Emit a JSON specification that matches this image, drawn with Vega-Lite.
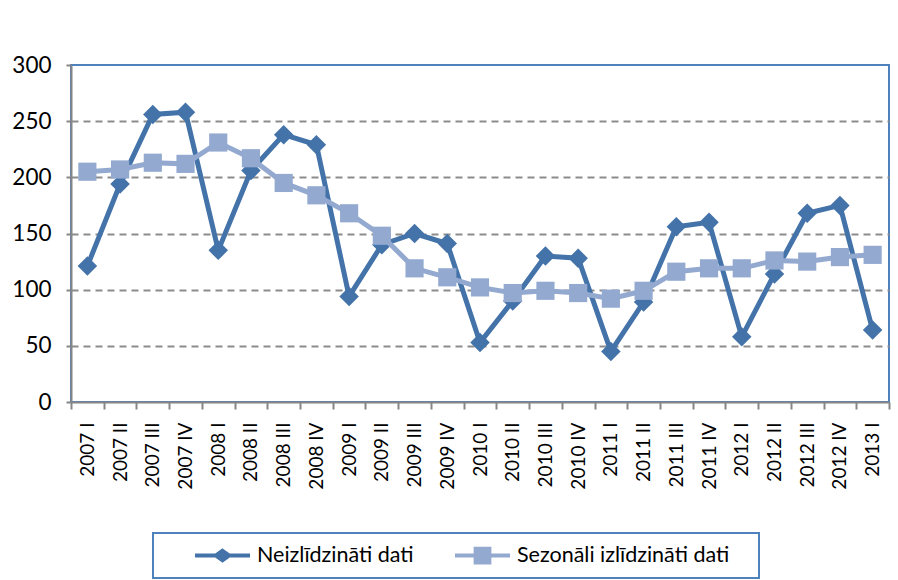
{
  "$schema": "https://vega.github.io/schema/vega-lite/v6.json",
  "autosize": "none",
  "width": 818,
  "height": 337,
  "padding": {"left": 71, "top": 65, "right": 9, "bottom": 178},
  "background": "white",
  "config": {
    "font": "Lato",
    "view": {"stroke": "#4f81bd", "strokeWidth": 2},
    "axis": {"labelFont": "Lato", "labelColor": "black", "domainColor": "#868686", "domainWidth": 2, "tickColor": "#868686", "tickWidth": 2, "title": null}
  },
  "data": {"values": [
    {"q": "2007 I", "s": "Neizlīdzināti dati", "v": 121}, {"q": "2007 II", "s": "Neizlīdzināti dati", "v": 194}, {"q": "2007 III", "s": "Neizlīdzināti dati", "v": 256}, {"q": "2007 IV", "s": "Neizlīdzināti dati", "v": 258},
    {"q": "2008 I", "s": "Neizlīdzināti dati", "v": 135}, {"q": "2008 II", "s": "Neizlīdzināti dati", "v": 206}, {"q": "2008 III", "s": "Neizlīdzināti dati", "v": 238}, {"q": "2008 IV", "s": "Neizlīdzināti dati", "v": 229},
    {"q": "2009 I", "s": "Neizlīdzināti dati", "v": 94}, {"q": "2009 II", "s": "Neizlīdzināti dati", "v": 140}, {"q": "2009 III", "s": "Neizlīdzināti dati", "v": 150}, {"q": "2009 IV", "s": "Neizlīdzināti dati", "v": 141},
    {"q": "2010 I", "s": "Neizlīdzināti dati", "v": 53}, {"q": "2010 II", "s": "Neizlīdzināti dati", "v": 90}, {"q": "2010 III", "s": "Neizlīdzināti dati", "v": 130}, {"q": "2010 IV", "s": "Neizlīdzināti dati", "v": 128},
    {"q": "2011 I", "s": "Neizlīdzināti dati", "v": 45}, {"q": "2011 II", "s": "Neizlīdzināti dati", "v": 89}, {"q": "2011 III", "s": "Neizlīdzināti dati", "v": 156}, {"q": "2011 IV", "s": "Neizlīdzināti dati", "v": 160},
    {"q": "2012 I", "s": "Neizlīdzināti dati", "v": 58}, {"q": "2012 II", "s": "Neizlīdzināti dati", "v": 114}, {"q": "2012 III", "s": "Neizlīdzināti dati", "v": 168}, {"q": "2012 IV", "s": "Neizlīdzināti dati", "v": 175},
    {"q": "2013 I", "s": "Neizlīdzināti dati", "v": 64},
    {"q": "2007 I", "s": "Sezonāli izlīdzināti dati", "v": 205}, {"q": "2007 II", "s": "Sezonāli izlīdzināti dati", "v": 207}, {"q": "2007 III", "s": "Sezonāli izlīdzināti dati", "v": 213}, {"q": "2007 IV", "s": "Sezonāli izlīdzināti dati", "v": 212},
    {"q": "2008 I", "s": "Sezonāli izlīdzināti dati", "v": 231}, {"q": "2008 II", "s": "Sezonāli izlīdzināti dati", "v": 217}, {"q": "2008 III", "s": "Sezonāli izlīdzināti dati", "v": 195}, {"q": "2008 IV", "s": "Sezonāli izlīdzināti dati", "v": 184},
    {"q": "2009 I", "s": "Sezonāli izlīdzināti dati", "v": 168}, {"q": "2009 II", "s": "Sezonāli izlīdzināti dati", "v": 148}, {"q": "2009 III", "s": "Sezonāli izlīdzināti dati", "v": 119}, {"q": "2009 IV", "s": "Sezonāli izlīdzināti dati", "v": 111},
    {"q": "2010 I", "s": "Sezonāli izlīdzināti dati", "v": 102}, {"q": "2010 II", "s": "Sezonāli izlīdzināti dati", "v": 97}, {"q": "2010 III", "s": "Sezonāli izlīdzināti dati", "v": 99}, {"q": "2010 IV", "s": "Sezonāli izlīdzināti dati", "v": 97},
    {"q": "2011 I", "s": "Sezonāli izlīdzināti dati", "v": 92}, {"q": "2011 II", "s": "Sezonāli izlīdzināti dati", "v": 99}, {"q": "2011 III", "s": "Sezonāli izlīdzināti dati", "v": 116}, {"q": "2011 IV", "s": "Sezonāli izlīdzināti dati", "v": 119},
    {"q": "2012 I", "s": "Sezonāli izlīdzināti dati", "v": 119}, {"q": "2012 II", "s": "Sezonāli izlīdzināti dati", "v": 126}, {"q": "2012 III", "s": "Sezonāli izlīdzināti dati", "v": 125}, {"q": "2012 IV", "s": "Sezonāli izlīdzināti dati", "v": 129},
    {"q": "2013 I", "s": "Sezonāli izlīdzināti dati", "v": 131}
  ]},
  "encoding": {
    "x": {"field": "q", "type": "ordinal", "sort": null,
      "scale": {"type": "band", "paddingInner": 0, "paddingOuter": 0},
      "axis": {"labelAngle": -90, "labelFontSize": 19, "tickBand": "extent", "tickSize": 7, "labelPadding": 13, "grid": false}},
    "y": {"field": "v", "type": "quantitative",
      "scale": {"domain": [0, 300], "nice": false},
      "axis": {"values": [0, 50, 100, 150, 200, 250, 300], "labelFontSize": 22.5, "tickSize": 5, "labelPadding": 15,
        "grid": true, "gridColor": "#8c8c8c", "gridWidth": 2, "gridDash": [7, 5],
        "gridOpacity": {"condition": {"test": "datum.value === 0 || datum.value === 300", "value": 0}, "value": 1}}},
    "color": {"field": "s", "type": "nominal",
      "scale": {"domain": ["Neizlīdzināti dati", "Sezonāli izlīdzināti dati"], "range": ["#4473a9", "#93a9d0"]},
      "legend": {"title": " ", "titleOrient": "right", "titlePadding": 22, "titleFontSize": 16,
        "orient": "none", "legendX": 82, "legendY": 468, "direction": "horizontal",
        "strokeColor": "#4f81bd", "padding": 8, "symbolOffset": 32, "labelOffset": 5, "columnPadding": 7,
        "labelFontSize": 21.5, "labelFont": "Lato", "labelColor": "black", "labelLimit": 400, "symbolSize": 3025, "clipHeight": 29,
        "symbolStrokeWidth": 4,
        "encode": {
          "legend": {"update": {"strokeWidth": {"value": 2}}},
          "symbols": {"update": {
          "shape": {"signal": "datum.value === 'Neizlīdzināti dati' ? 'M-1,0H1M0,-0.17L0.24,0L0,0.17L-0.24,0Z' : 'M-1,0H1M-0.25,-0.25H0.25V0.25H-0.25Z'"},
          "fill": {"signal": "datum.value === 'Neizlīdzināti dati' ? '#4473a9' : '#93a9d0'"},
          "stroke": {"signal": "datum.value === 'Neizlīdzināti dati' ? '#4473a9' : '#93a9d0'"},
          "strokeWidth": {"value": 4},
          "opacity": {"value": 1}
        }}}}}
  },
  "layer": [
    {"transform": [{"filter": "datum.s === 'Neizlīdzināti dati'"}], "mark": {"type": "line", "strokeWidth": 5}},
    {"transform": [{"filter": "datum.s === 'Neizlīdzināti dati'"}], "mark": {"type": "point", "filled": true, "opacity": 1, "shape": "diamond", "size": 380}},
    {"transform": [{"filter": "datum.s === 'Sezonāli izlīdzināti dati'"}], "mark": {"type": "line", "strokeWidth": 5}},
    {"transform": [{"filter": "datum.s === 'Sezonāli izlīdzināti dati'"}], "mark": {"type": "point", "filled": true, "opacity": 1, "shape": "square", "size": 330}}
  ]
}
